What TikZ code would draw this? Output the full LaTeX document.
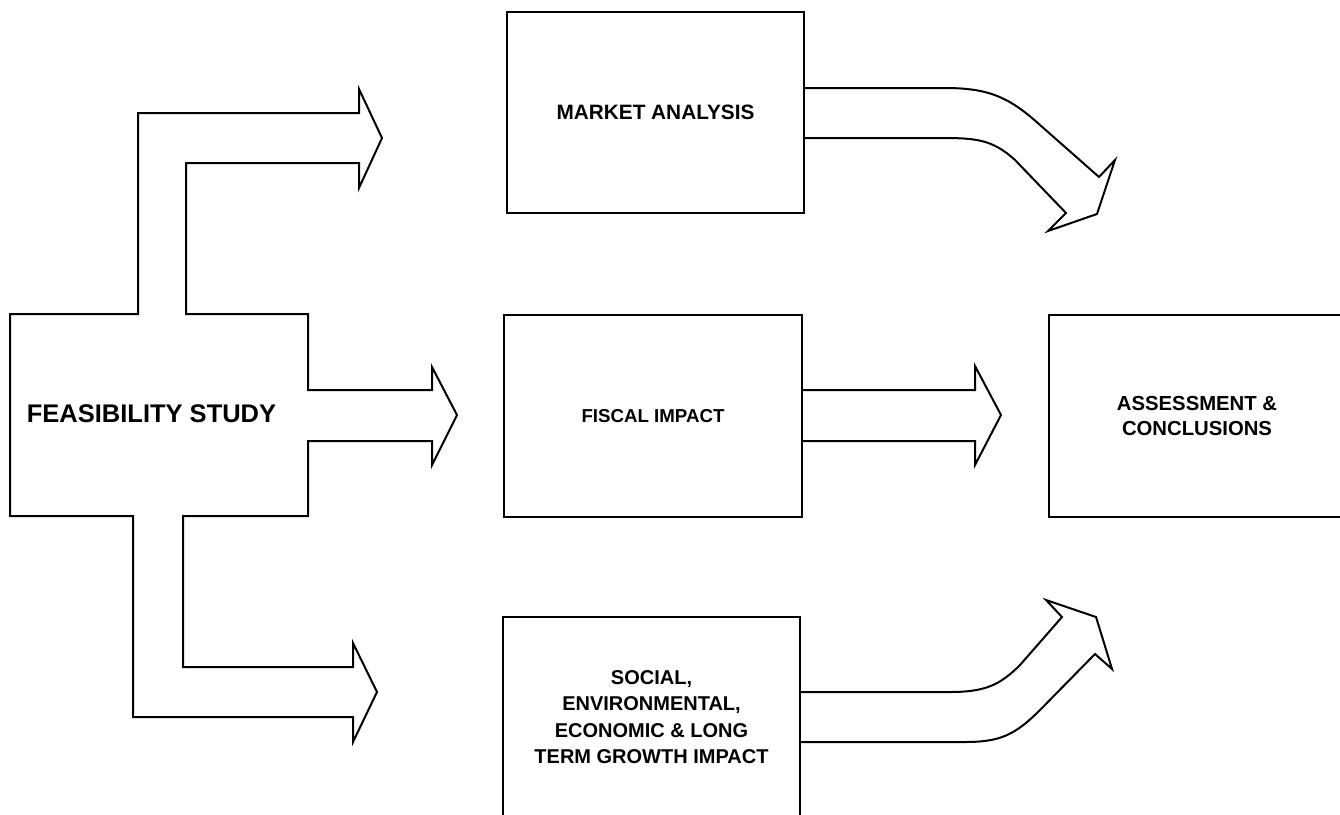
\documentclass[tikz,border=0pt]{standalone}
\usepackage{fontspec}
\setmainfont{Liberation Sans}
\usetikzlibrary{calc}
\begin{document}
\begin{tikzpicture}[x=1pt,y=-1pt,
  box/.style={draw, line width=2pt, rectangle, inner sep=0pt, align=center},
  blockarrow/.style={draw, line width=2pt, line join=miter},
  lbl/.style={inner sep=0pt, align=center}]
\useasboundingbox (0,0) rectangle (1340,814);
\clip (0,0) rectangle (1340,814);

% boxes
\node[box, minimum width=297pt, minimum height=201pt,
      font=\fontsize{20.8}{25}\selectfont\bfseries] (market) at (655.5,112.5) {MARKET ANALYSIS};
\node[box, minimum width=298pt, minimum height=202pt,
      font=\fontsize{18.7}{23}\selectfont\bfseries] (fiscal) at (653,416) {FISCAL IMPACT};
\node[box, minimum width=297pt, minimum height=200pt,
      font=\fontsize{20}{26.5}\selectfont\bfseries] (social) at (651.5,717)
      {SOCIAL,\\ENVIRONMENTAL,\\ECONOMIC \& LONG\\TERM GROWTH IMPACT};
\node[box, minimum width=296pt, minimum height=202pt,
      font=\fontsize{20.3}{25.5}\selectfont\bfseries] (assess) at (1197,416)
      {ASSESSMENT \&\\CONCLUSIONS};

% feasibility study compound block arrow
\draw[blockarrow]
  (10,314) -- (138,314) -- (138,113) -- (359,113) -- (359,89) -- (382,138)
  -- (359,188) -- (359,163) -- (186,163) -- (186,314) -- (308,314)
  -- (308,390) -- (432,390) -- (432,367) -- (457,415) -- (432,465)
  -- (432,441) -- (308,441) -- (308,516) -- (183,516) -- (183,667)
  -- (353,667) -- (353,643) -- (377,692) -- (353,742) -- (353,717)
  -- (133,717) -- (133,516) -- (10,516) -- cycle;
\node[lbl, font=\fontsize{25.5}{30}\selectfont\bfseries] (feas) at (151.5,414) {FEASIBILITY STUDY};

% fiscal -> assessment
\coordinate (tipf) at (1001,415);
\draw[blockarrow]
  (fiscal.east |- 0,390) -- (975,390) -- (975,366) -- (tipf)
  -- (975,465) -- (975,441) -- (fiscal.east |- 0,441);

% market -> curved arrow
\draw[blockarrow]
  (market.east |- 0,88) -- (945,88) .. controls (990,88) and (1010,98) .. (1040,125)
  -- (1099,177) -- (1115,160) -- (1097,214) -- (1048,231) -- (1066,213)
  -- (1015,160) .. controls (992,139) and (975,138) .. (940,138) -- (market.east |- 0,138);

% social -> curved arrow
\draw[blockarrow]
  (social.east |- 0,692) -- (950,692) .. controls (985,692) and (1000,685) .. (1020,665)
  -- (1062,617) -- (1046,600) -- (1096,617) -- (1112,669) -- (1095,654)
  -- (1040,710) .. controls (1015,735) and (1000,742) .. (965,742) -- (social.east |- 0,742);
\end{tikzpicture}
\end{document}
